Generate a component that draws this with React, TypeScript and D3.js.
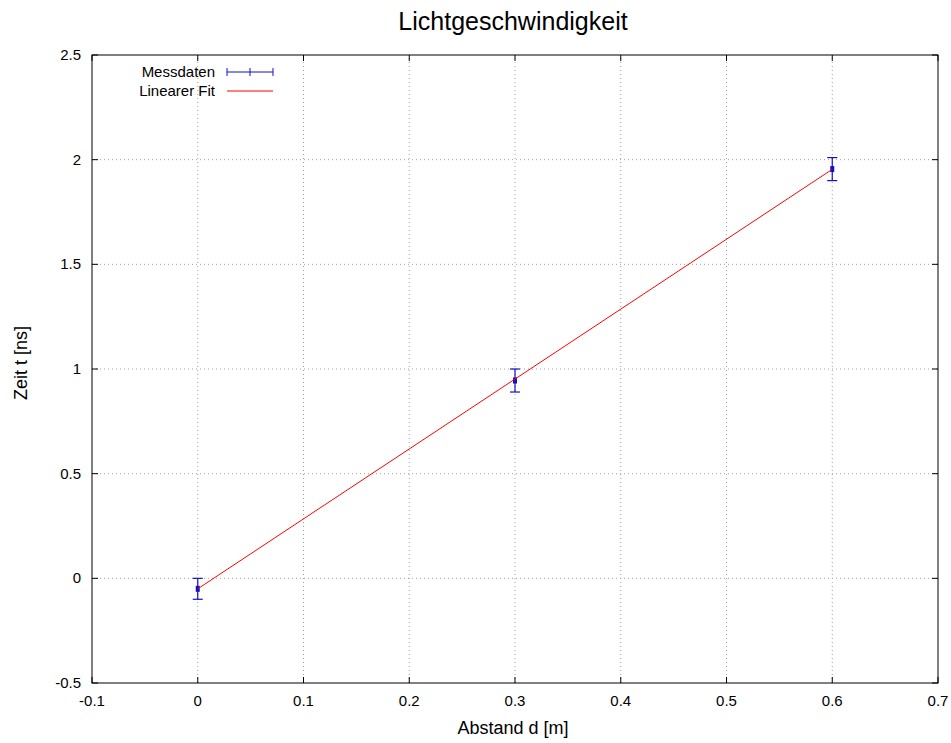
import React from "react"
import * as d3 from "d3"

const width = 951
const height = 743
const margin = { left: 92, right: 13, top: 55, bottom: 60 }

// data
const abstand = [0, 0.3, 0.6]
const zeit = [-0.05, 0.945, 1.955]
const fehler = [0.05, 0.055, 0.055]
const fitSlope = 3.34
const fitIntercept = -0.05
const xTicks = [-0.1, 0, 0.1, 0.2, 0.3, 0.4, 0.5, 0.6, 0.7]
const yTicks = [-0.5, 0, 0.5, 1, 1.5, 2, 2.5]

const x = d3.scaleLinear().domain([-0.1, 0.7]).range([margin.left, width - margin.right])
const y = d3.scaleLinear().domain([-0.5, 2.5]).range([height - margin.bottom, margin.top])

const fitLine = d3.line<number>()
  .x(d => x(d))
  .y(d => y(fitSlope * d + fitIntercept))

const font = "Liberation Sans, Arial, sans-serif"
const tick = 6
const cap = 5

const App = () => {
  const [x0, x1] = x.range()
  const [y0, y1] = y.range()
  return (
    <svg width={width} height={height} style={{ position: "absolute", left: 0, top: 0 }}
      fontFamily={font}>
      <rect width={width} height={height} fill="white" />
      {/* grid */}
      {xTicks.slice(1, -1).map(t => (
        <line key={"gx" + t} x1={x(t)} x2={x(t)} y1={y0} y2={y1}
          stroke="#a0a0a0" strokeWidth={1} strokeDasharray="1,3" />
      ))}
      {yTicks.slice(1, -1).map(t => (
        <line key={"gy" + t} x1={x0} x2={x1} y1={y(t)} y2={y(t)}
          stroke="#a0a0a0" strokeWidth={1} strokeDasharray="1,3" />
      ))}
      {/* ticks, mirrored */}
      {xTicks.map(t => (
        <g key={"tx" + t}>
          <line x1={x(t)} x2={x(t)} y1={y0} y2={y0 - tick} stroke="black" />
          <line x1={x(t)} x2={x(t)} y1={y1} y2={y1 + tick} stroke="black" />
          <text x={x(t)} y={y0 + 23} textAnchor="middle" fontSize={15}>{t}</text>
        </g>
      ))}
      {yTicks.map(t => (
        <g key={"ty" + t}>
          <line x1={x0} x2={x0 + tick} y1={y(t)} y2={y(t)} stroke="black" />
          <line x1={x1} x2={x1 - tick} y1={y(t)} y2={y(t)} stroke="black" />
          <text x={x0 - 11} y={y(t) + 5} textAnchor="end" fontSize={15}>{t}</text>
        </g>
      ))}
      {/* data with error bars */}
      {abstand.map((d, i) => {
        const cx = x(d)
        const lo = y(zeit[i] - fehler[i])
        const hi = y(zeit[i] + fehler[i])
        return (
          <g key={"p" + i} stroke="#1010c8" strokeWidth={1.2}>
            <line x1={cx} x2={cx} y1={lo} y2={hi} />
            <line x1={cx - cap} x2={cx + cap} y1={lo} y2={lo} />
            <line x1={cx - cap} x2={cx + cap} y1={hi} y2={hi} />
            <rect x={cx - 2} y={y(zeit[i]) - 3} width={4} height={6} fill="#1010c8" stroke="none" />
          </g>
        )
      })}
      {/* fit */}
      <path d={fitLine([0, 0.6]) ?? ""} fill="none" stroke="#ff0000" strokeWidth={1} />
      {/* frame */}
      <rect x={x0} y={y1} width={x1 - x0} height={y0 - y1} fill="none" stroke="black" strokeWidth={1} />
      {/* legend */}
      <text x={215} y={77} textAnchor="end" fontSize={15}>Messdaten</text>
      <g stroke="#1010c8" strokeWidth={1}>
        <line x1={227} x2={273} y1={72} y2={72} />
        <line x1={227} x2={227} y1={68} y2={76} />
        <line x1={250} x2={250} y1={68} y2={76} />
        <line x1={273} x2={273} y1={68} y2={76} />
      </g>
      <text x={215} y={96} textAnchor="end" fontSize={15}>Linearer Fit</text>
      <line x1={227} x2={273} y1={91} y2={91} stroke="#ff0000" />
      {/* titles */}
      <text x={513} y={30} textAnchor="middle" fontSize={25}>Lichtgeschwindigkeit</text>
      <text x={513} y={734} textAnchor="middle" fontSize={18}>Abstand d [m]</text>
      <text transform={`translate(27,363) rotate(-90)`} textAnchor="middle" fontSize={18}>Zeit t [ns]</text>
    </svg>
  )
}

export default App
